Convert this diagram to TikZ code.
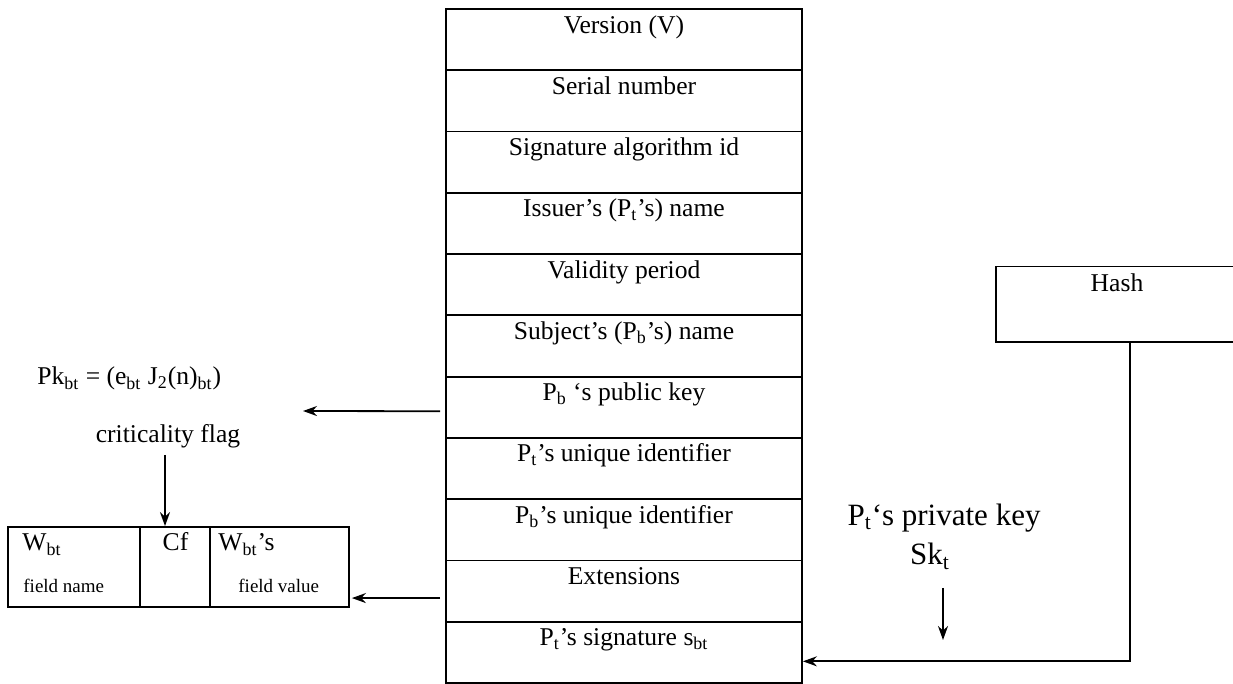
\documentclass[tikz,border=0pt]{standalone}
\usepackage{fontspec}
\setmainfont{Liberation Serif}
\usetikzlibrary{arrows.meta,calc}
\tikzset{
  rowbox/.style={draw, line width=0.9pt, minimum width=178pt, inner sep=0pt,
    text height=12pt, text depth=18.63pt, font=\fontsize{12.8}{15}\selectfont},
  cellbox/.style={draw, line width=0.9pt, minimum height=40pt, inner sep=0pt},
  lbl/.style={inner sep=0pt, font=\fontsize{12.8}{15}\selectfont},
  smalllbl/.style={inner sep=0pt, font=\fontsize{9.5}{11}\selectfont},
  biglbl/.style={inner sep=0pt, font=\fontsize{15.5}{18}\selectfont},
  arr/.style={line width=0.9pt, -{Stealth[length=7pt,width=5pt]}},
  plain/.style={line width=0.9pt}
}
\begin{document}
\begin{tikzpicture}[x=0.5pt,y=-0.5pt]
\useasboundingbox (0,0) rectangle (1233,684);
% central stack
\foreach \t [count=\i] in {Version (V), Serial number, Signature algorithm id,
  {Issuer’s (P\textsubscript{t}’s) name}, Validity period,
  {Subject’s (P\textsubscript{b}’s) name}, {P\textsubscript{b} ‘s public key},
  {P\textsubscript{t}’s unique identifier}, {P\textsubscript{b}’s unique identifier},
  Extensions, {P\textsubscript{t}’s signature s\textsubscript{bt}}}
  \node[rowbox] (r\i) at (624, {9+61.27*(\i-0.5)}) {\t};

% left formula and flag
\node[lbl, anchor=base west] (pk) at (37,385)
  {Pk\textsubscript{bt} = (e\textsubscript{bt} J\textsubscript{2}(n)\textsubscript{bt})};
\coordinate (pkend) at (303,411);
\draw[arr] ([xshift=-2.5pt,yshift=-2pt]r7.west) -- (pkend);

\node[lbl, anchor=base] (cflag) at (168,443) {criticality flag};

% left box
\node[cellbox, minimum width=66pt] (c1) at (74,567) {};
\node[cellbox, minimum width=35pt] (c2) at (175,567) {};
\node[cellbox, minimum width=69.5pt] (c3) at (279.5,567) {};
\node[lbl, anchor=base west] (w1) at (22,551) {W\textsubscript{bt}};
\node[lbl, anchor=base] (cf) at (175.5,551) {Cf};
\node[lbl, anchor=base west] (w2) at (218,551) {W\textsubscript{bt}’s};
\node[smalllbl, anchor=base west] (fn) at (23,592) {field name};
\node[smalllbl, anchor=base west] (fv) at (238,592) {field value};

\draw[arr] ([yshift=-3pt]cflag.south -| 165,0) -- (165,0 |- c2.north);
\draw[arr] ([xshift=-2.5pt,yshift=-3.5pt]r10.west) coordinate (e1) -- ([xshift=1pt]c3.east |- e1);

% hash box (open to the right edge)
\node[inner sep=0pt, minimum width=118.5pt, text height=12.5pt, text depth=25pt,
  font=\fontsize{12.8}{15}\selectfont] (hash) at (1114.5,304.5) {};
\node[lbl, anchor=base] (hashtxt) at (1117,292) {Hash};
\draw[plain] (hash.north east) -- (hash.north west) -- (hash.south west) -- (hash.south east);

% private key
\node[biglbl, anchor=base] (pkey) at (944,525) {P\textsubscript{t}‘s private key};
\node[biglbl, anchor=base] (sk) at (930,565) {Sk\textsubscript{t}};
\coordinate (ska) at (943,640);
\draw[arr] (sk.south -| ska) ++(0,18) -- (ska);

\draw[arr] ([xshift=7.75pt]hash.south) |- ([yshift=-4.5pt]r11.east);
\end{tikzpicture}
\end{document}
